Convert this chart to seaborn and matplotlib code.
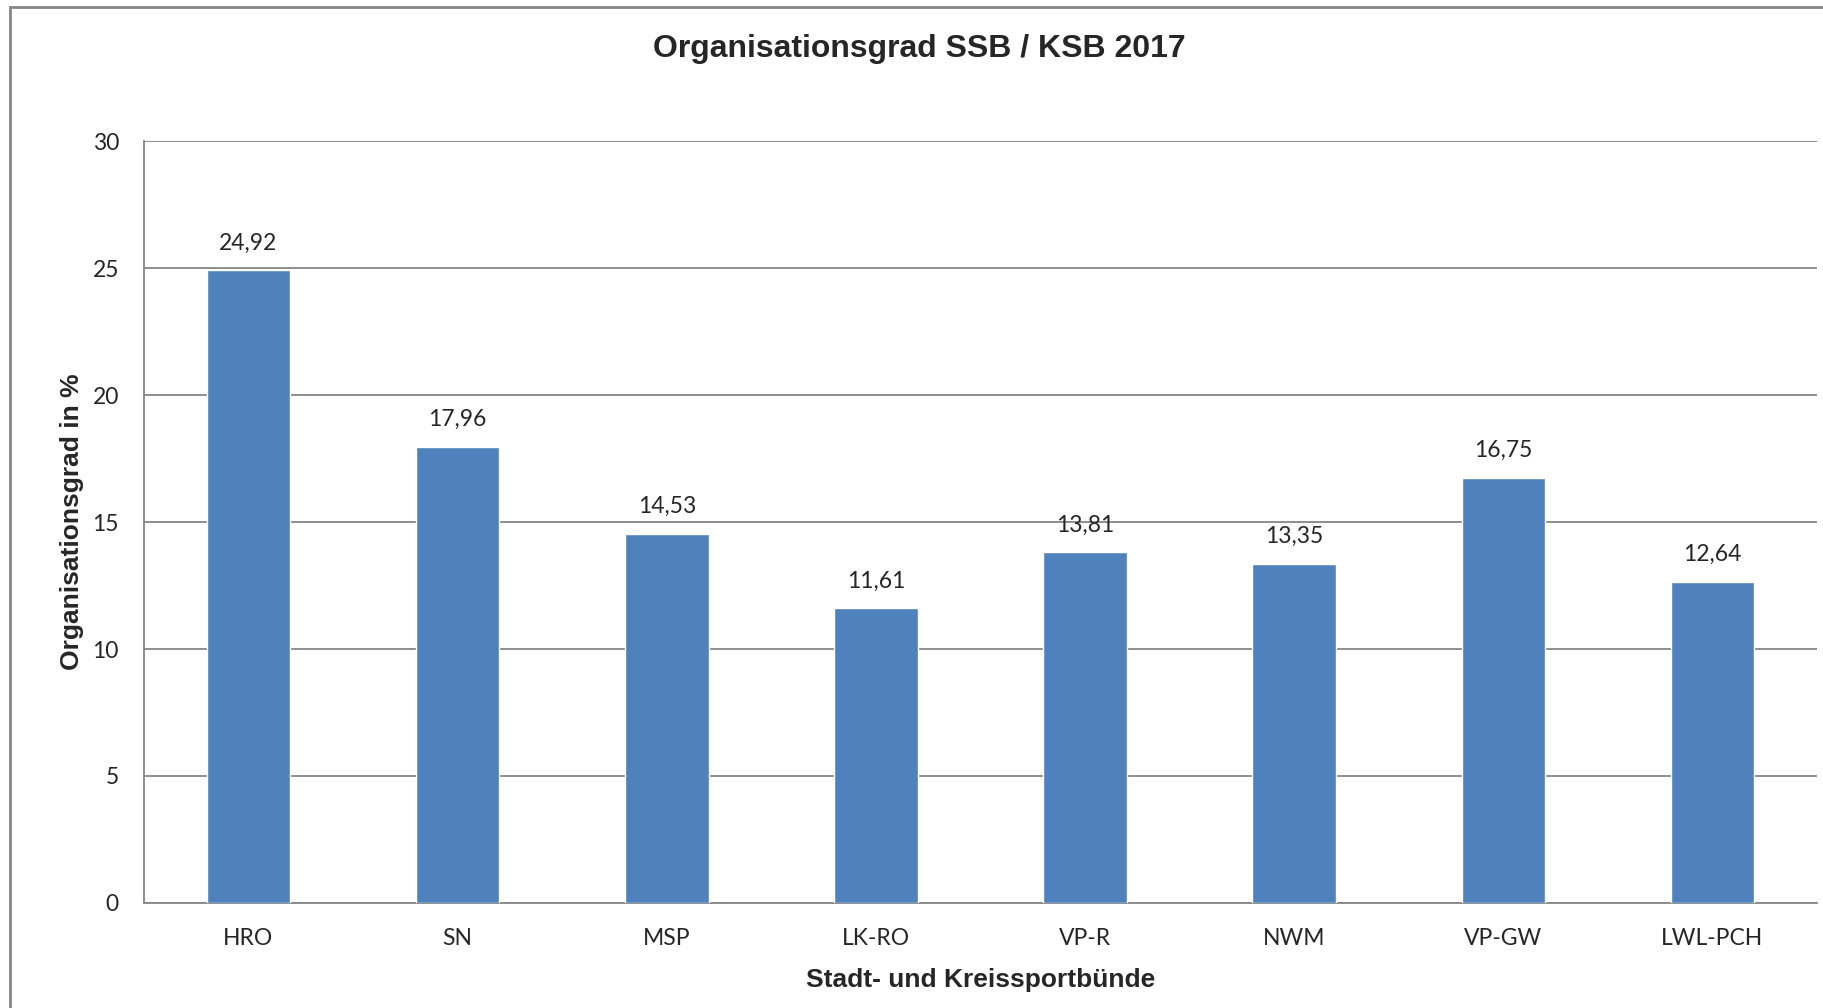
import pandas as pd
import seaborn as sns
import matplotlib
matplotlib.use('agg')
from matplotlib import pyplot as plt
from matplotlib.patches import Rectangle
import numpy as np

# data
bunde = ['HRO', 'SN', 'MSP', 'LK-RO', 'VP-R', 'NWM', 'VP-GW', 'LWL-PCH']
grad = [24.92, 17.96, 14.53, 11.61, 13.81, 13.35, 16.75, 12.64]
y_ticks = [0, 5, 10, 15, 20, 25, 30]

title = 'Organisationsgrad SSB / KSB 2017'
x_label = 'Stadt- und Kreissportbünde'
y_label = 'Organisationsgrad in %'

bar_color = '#4F81BD'
line_color = '#868686'

sns.set_style('white')
plt.rcParams['font.family'] = ['Lato', 'DejaVu Sans']

data = pd.DataFrame({'bund': bunde, 'grad': grad})

fig = plt.figure(figsize=(18.24, 10.08), dpi=100)
ax = fig.add_axes([0.0789, 0.1042, 0.9173, 0.7558])

sns.barplot(data=data, x='bund', y='grad', color=bar_color, width=0.4,
            saturation=1, ax=ax, zorder=3)

ax.set_xlim(-0.5, len(bunde) - 0.5)
ax.set_ylim(0, 30)
ax.set_yticks(y_ticks)
ax.yaxis.grid(True, color=line_color, linewidth=1.3, zorder=0)
ax.set_axisbelow(True)

# category ticks sit between the bars
ax.set_xticks(np.arange(-0.5, len(bunde)), minor=True)
ax.tick_params(axis='x', which='minor', length=8, width=1.3, color=line_color, direction='out')
ax.tick_params(axis='x', which='major', length=0, pad=18, labelsize=16.5)
ax.tick_params(axis='y', length=8, width=1.3, color=line_color, direction='out', pad=10, labelsize=16.5)

for side in ['top', 'right']:
    ax.spines[side].set_visible(False)
for side in ['left', 'bottom']:
    ax.spines[side].set_color(line_color)
    ax.spines[side].set_linewidth(1.3)

for i, v in enumerate(grad):
    ax.annotate(f'{v:.2f}'.replace('.', ','), (i, v), xytext=(0, 12),
                textcoords='offset points', ha='center', va='bottom', fontsize=16.5)

ax.set_xlabel(x_label, fontsize=19, fontweight='bold', family='Liberation Sans', labelpad=14)
ax.set_ylabel(y_label, fontsize=19, fontweight='bold', family='Liberation Sans', labelpad=6)

fig.text(0.504, 0.951, title, ha='center', va='center', fontsize=23,
         fontweight='bold', family='Liberation Sans')

# outer chart frame, open at the right and bottom like the source
fig.patches.append(Rectangle((10 / 1824, -0.05), 1.2, 1 - 7 / 1008 + 0.05,
                             transform=fig.transFigure, fill=False,
                             edgecolor=line_color, linewidth=2))

fig.savefig('out.png', dpi=100)
